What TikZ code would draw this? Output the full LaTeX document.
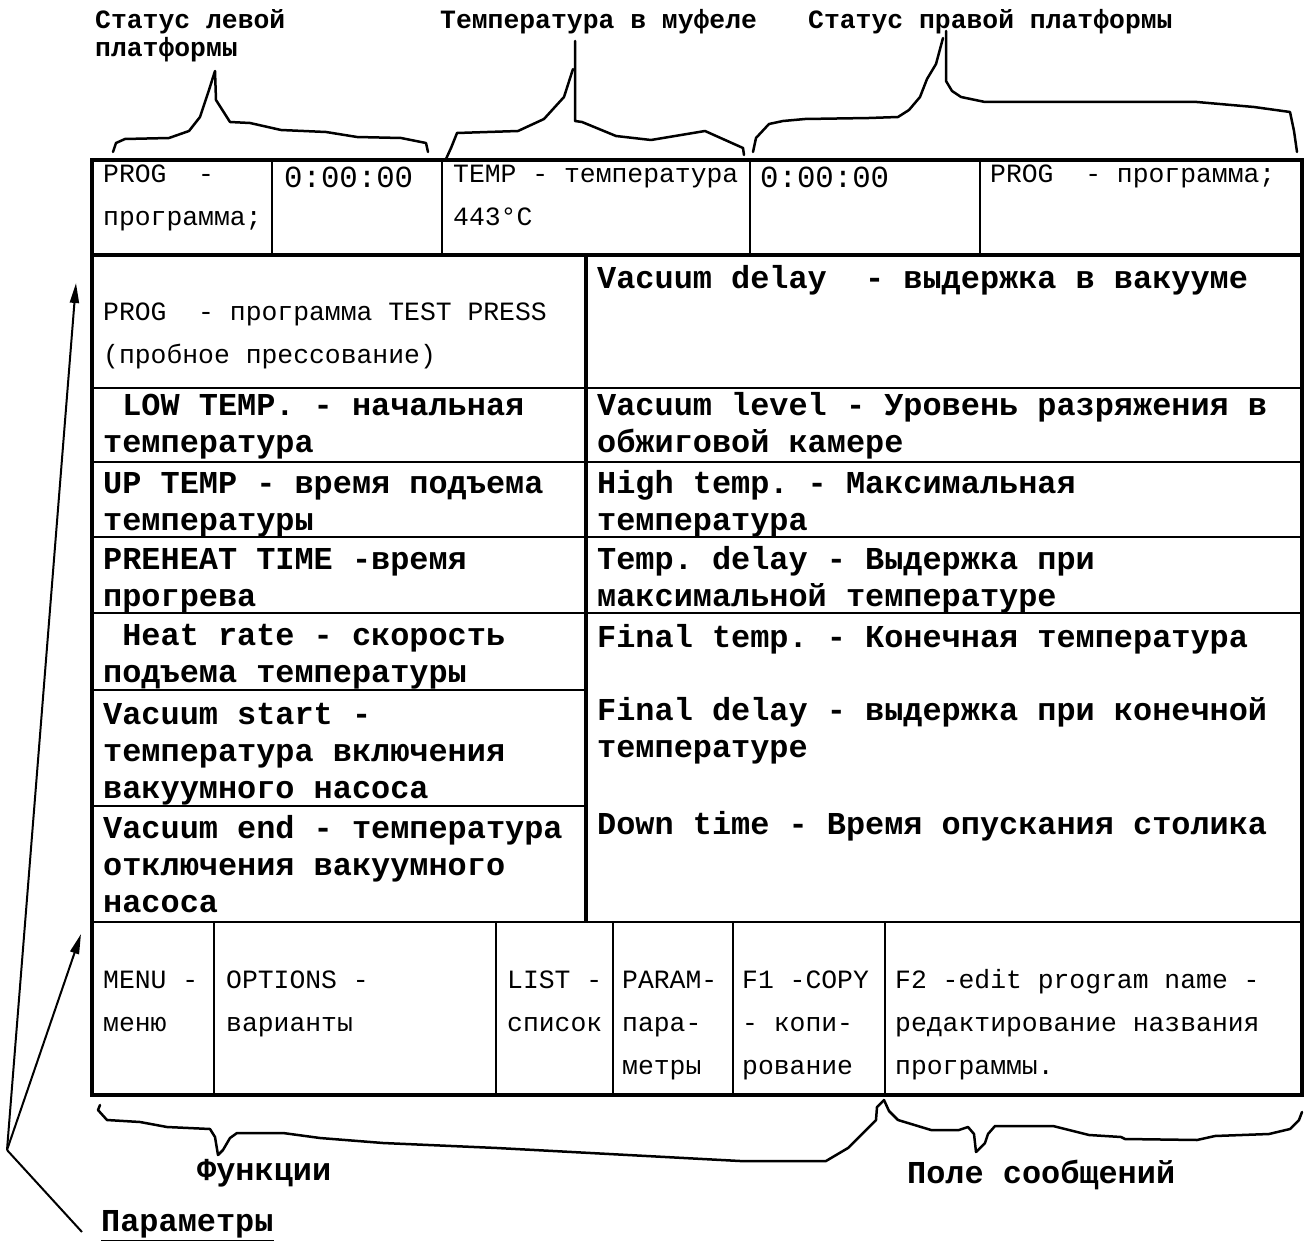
\documentclass[tikz,border=0pt]{standalone}
\usepackage{fontspec}
\setmonofont{Liberation Mono}
\usetikzlibrary{arrows.meta}

\begin{document}
\begin{tikzpicture}[
		x = 1pt, y = -1pt,
		cell/.style = {anchor=north west, inner sep=0pt, align=left,
			font=\fontsize{26.4}{43}\selectfont\ttfamily},
		parm/.style = {anchor=north west, inner sep=0pt, align=left,
			font=\fontsize{31.9}{36.7}\selectfont\ttfamily\bfseries},
		clock/.style = {anchor=base west, inner sep=0pt,
			font=\fontsize{30.7}{36}\selectfont\ttfamily},
		hdr/.style = {anchor=north west, inner sep=0pt, align=left,
			font=\fontsize{26.4}{27}\selectfont\ttfamily\bfseries},
		lbl/.style = {anchor=base west, inner sep=0pt,
			font=\fontsize{31.9}{36}\selectfont\ttfamily\bfseries},
		frame/.style = {line width=4pt},
		grid/.style = {line width=2pt},
		brace/.style = {line width=2.5pt, line join=round, line cap=round},
		pointer/.style = {line width=2pt, -{Triangle[length=20pt,width=9pt]}}
	]

	\useasboundingbox (0,0) rectangle (1304,1241);

	% screen frame
	\draw[frame] (92,160) rectangle (1302,1095);
	\draw[frame] (92,255) -- (1302,255);
	\draw[frame] (586,255) -- (586,922);
	\draw[grid] (92,922) -- (1302,922);
	\foreach \x in {272,442,750,980}
		\draw[grid] (\x,160) -- (\x,255);
	\foreach \y in {388,462,537,613}
		\draw[grid] (92,\y) -- (1302,\y);
	\foreach \y in {690,806}
		\draw[grid] (92,\y) -- (586,\y);
	\foreach \x in {214,496,613,733,885}
		\draw[grid] (\x,922) -- (\x,1095);

	% status line
	\node[cell] (progl) at (103,152) {\strut PROG\ \ -\\программа;};
	\node[clock] (clockl) at (284,188) {0:00:00};
	\node[cell] (temp) at (453,152) {\strut TEMP - температура\\443°C};
	\node[clock] (clockr) at (760,188) {0:00:00};
	\node[cell] (progr) at (990,152) {\strut PROG\ \ - программа;};

	% parameters
	\node[cell] (test) at (103,290) {\strut PROG\ \ - программа TEST PRESS\\(пробное прессование)};
	\node[parm] (vacdelay) at (597,263) {\strut Vacuum delay\ \ - выдержка в вакууме};

	\node[parm] (lowtemp) at (103,390) {\strut\ LOW TEMP. - начальная\\температура};
	\node[parm] (uptemp) at (103,468) {\strut UP TEMP - время подъема\\температуры};
	\node[parm] (preheat) at (103,544) {\strut PREHEAT TIME -время\\прогрева};
	\node[parm] (heatrate) at (103,620) {\strut\ Heat rate - скорость\\подъема температуры};
	\node[parm] (vacstart) at (103,699) {\strut Vacuum start -\\температура включения\\вакуумного насоса};
	\node[parm] (vacend) at (103,813) {\strut Vacuum end - температура\\отключения вакуумного\\насоса};

	\node[parm] (vaclevel) at (597,390) {\strut Vacuum level - Уровень разряжения в\\обжиговой камере};
	\node[parm] (hightemp) at (597,468) {\strut High temp. - Максимальная\\температура};
	\node[parm] (tempdelay) at (597,544) {\strut Temp. delay - Выдержка при\\максимальной температуре};
	\node[parm] (finaltemp) at (597,622) {\strut Final temp. - Конечная температура};
	\node[parm] (finaldelay) at (597,695) {\strut Final delay - выдержка при конечной\\температуре};
	\node[parm] (downtime) at (597,809) {\strut Down time - Время опускания столика};

	% function keys
	\node[cell] (menu) at (103,958) {\strut MENU -\\меню};
	\node[cell] (options) at (226,958) {\strut OPTIONS -\\варианты};
	\node[cell] (list) at (507,958) {\strut LIST -\\список};
	\node[cell] (param) at (622,958) {\strut PARAM-\\пара-\\метры};
	\node[cell] (copy) at (742,958) {\strut F1 -COPY\\- копи-\\рование};
	\node[cell] (rename) at (895,958) {\strut F2 -edit program name -\\редактирование названия\\программы.};

	% captions
	\node[hdr] (lstat) at (95,9) {\strut Статус левой\\платформы};
	\node[hdr] (mtemp) at (440,9) {\strut Температура в муфеле};
	\node[hdr] (rstat) at (808,9) {\strut Статус правой платформы};
	\node[lbl] (funcs) at (197,1180) {Функции};
	\node[lbl] (msgs) at (907,1183) {Поле сообщений};
	\node[lbl] (params) at (101,1231) {Параметры};
	\draw[line width=2.5pt] ([yshift=-3pt]params.south west) -- ([yshift=-3pt]params.south east);

	% braces
	\draw[brace] (113,152) -- (116,143) -- (125,139) -- (169,138) -- (189,131) -- (200,117)
		-- (209,90) -- (215,71) -- (216,100) -- (230,122) -- (250,123) -- (281,130)
		-- (326,132) -- (357,137) -- (401,138) -- (426,143) -- (428,152);
	\draw[brace] (446,159) -- (451,148) -- (457,133) -- (518,131) -- (544,119) -- (564,97)
		-- (573,69);
	\draw[brace] (575,41) -- (575,121) -- (582,122) -- (616,136) -- (651,140) -- (705,131)
		-- (743,148) -- (744,155);
	\draw[brace] (753,152) -- (756,138) -- (769,124) -- (783,121) -- (805,119) -- (869,118)
		-- (898,117) -- (909,110) -- (920,97) -- (927,79) -- (936,64) -- (943,38);
	\draw[brace] (946,31) -- (946,81) -- (952,91) -- (961,97) -- (985,102) -- (1197,102)
		-- (1254,107) -- (1290,112) -- (1294,131) -- (1297,152);
	\draw[brace] (100,1105) -- (98,1110) -- (107,1120) -- (140,1122) -- (167,1127) -- (210,1129)
		-- (215,1137) -- (218,1155) -- (223,1150) -- (230,1138) -- (237,1133) -- (283,1133)
		-- (320,1138) -- (383,1143) -- (497,1148) -- (740,1161) -- (826,1161) -- (848,1148)
		-- (866,1130) -- (876,1120) -- (877,1107) -- (884,1100);
	\draw[brace] (884,1100) -- (889,1111) -- (898,1120) -- (931,1130) -- (959,1130) -- (968,1127)
		-- (974,1134) -- (976,1152) -- (985,1143) -- (988,1134) -- (995,1126) -- (1053,1126)
		-- (1089,1135) -- (1121,1137) -- (1125,1139) -- (1197,1140) -- (1215,1136)
		-- (1269,1134) -- (1290,1129) -- (1299,1120) -- (1302,1112);

	% pointers to the parameter fields
	\coordinate (hub) at (7,1150);
	\coordinate (uptip) at (76,283);
	\coordinate (lowtip) at (81,934);
	\coordinate (paramend) at (82,1232);
	\draw[pointer] (hub) -- (uptip);
	\draw[pointer] (hub) -- (lowtip);
	\draw[line width=2pt] (hub) -- (paramend);

\end{tikzpicture}
\end{document}
